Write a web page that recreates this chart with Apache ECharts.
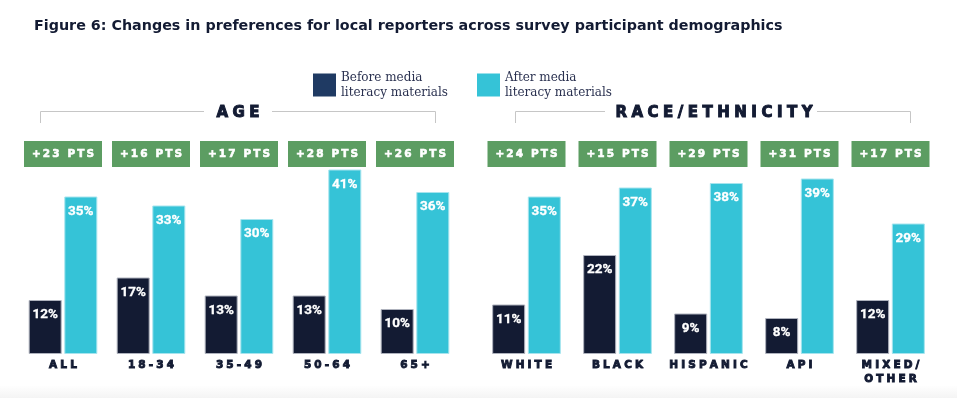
<!DOCTYPE html>
<html>
<head>
<meta charset="utf-8">
<script src="https://cdn.jsdelivr.net/npm/echarts@6/dist/echarts.min.js"></script>
<style>
html,body{margin:0;padding:0;background:#fff;}
#chart{width:957px;height:398px;}
</style>
</head>
<body>
<div id="chart"></div>
<script>
// ---- data ----
var ageCategories = ['ALL', '18-34', '35-49', '50-64', '65+'];
var ageBefore = [12, 17, 13, 13, 10];
var ageAfter = [35, 33, 30, 41, 36];
var ageChange = [23, 16, 17, 28, 26];

var raceCategories = ['WHITE', 'BLACK', 'HISPANIC', 'API', 'MIXED/\nOTHER'];
var raceBefore = [11, 22, 9, 8, 12];
var raceAfter = [35, 37, 38, 39, 29];
var raceChange = [24, 15, 29, 31, 17];

var seriesNames = ['Before media\nliteracy materials', 'After media\nliteracy materials'];
var groupTitles = ['AGE', 'RACE/ETHNICITY'];
var chartTitle = 'Figure 6: Changes in preferences for local reporters across survey participant demographics';

// ---- style ----
var NAVY = '#131b33';
var TEAL = '#35c3d7';
var GREEN = '#5c9d62';
var HEAVY = '"DejaVu Sans", sans-serif';

function spaced(s, sep) {
  sep = sep || '\u2009\u200a';
  return s.split('\n').map(function (line) { return line.split('').join(sep); }).join('\n');
}
function badge(v) { return spaced('+' + v + ' PTS', '\u2009'); }

var chart = echarts.init(document.getElementById('chart'), null, {renderer: 'canvas'});

function bottomAxis(grid, cats) {
  return {
    type: 'category', gridIndex: grid, position: 'bottom', data: cats,
    axisLine: {show: false}, axisTick: {show: false}, splitLine: {show: false},
    axisLabel: {
      interval: 0, margin: 4, color: NAVY, fontFamily: HEAVY, fontWeight: 'bold',
      fontSize: 10.5, lineHeight: 14, textBorderColor: NAVY, textBorderWidth: 0.9,
      formatter: function (v) { return spaced(v); }
    }
  };
}
function topAxis(grid, changes) {
  return {
    type: 'category', gridIndex: grid, position: 'top', data: changes.map(badge),
    axisLine: {show: false}, axisTick: {show: false}, splitLine: {show: false},
    axisLabel: {
      interval: 0, inside: true, margin: 12, color: '#ffffff', fontFamily: HEAVY,
      fontWeight: 'bold', fontSize: 10.5, backgroundColor: GREEN, width: 78, height: 26,
      lineHeight: 26, align: 'center', verticalAlign: 'top',
      textBorderColor: '#ffffff', textBorderWidth: 0.6
    }
  };
}
function valueAxis(grid) {
  return {type: 'value', gridIndex: grid, min: 0, max: 50, show: false, splitLine: {show: false}};
}
function barSeries(name, xi, yi, data, color, border) {
  return {
    type: 'bar', name: name, xAxisIndex: xi, yAxisIndex: yi, data: data,
    barWidth: 33, barGap: '8%',
    itemStyle: {color: color, borderColor: border, borderWidth: 1},
    label: {
      show: true, position: 'insideTop', distance: 8, color: '#ffffff',
      fontFamily: 'Roboto, sans-serif', fontWeight: 'bold', fontSize: 13.5,
      textBorderColor: '#ffffff', textBorderWidth: 0.3,
      formatter: '{c}%'
    },
    emphasis: {disabled: true}
  };
}

var LINE = {stroke: '#c6c6c6', lineWidth: 1};

var option = {
  animation: false,
  backgroundColor: '#ffffff',
  title: {
    text: chartTitle, left: 29, top: 14,
    textStyle: {fontFamily: HEAVY, fontWeight: 'bold', fontSize: 14.3, color: NAVY}
  },
  legend: {
    left: 308, top: 65, itemWidth: 23, itemHeight: 23, itemGap: 29, icon: 'rect',
    selectedMode: false,
    textStyle: {fontFamily: '"DejaVu Serif", serif', fontSize: 12, lineHeight: 15, color: '#2a3150'},
    data: [
      {name: seriesNames[0], itemStyle: {color: '#1f3a63', borderWidth: 0}},
      {name: seriesNames[1], itemStyle: {color: TEAL, borderWidth: 0}}
    ]
  },
  grid: [
    {left: 19, width: 440, top: 129, bottom: 44},
    {left: 481, width: 455, top: 129, bottom: 44}
  ],
  xAxis: [
    bottomAxis(0, ageCategories), topAxis(0, ageChange),
    bottomAxis(1, raceCategories), topAxis(1, raceChange)
  ],
  yAxis: [valueAxis(0), valueAxis(1)],
  series: [
    barSeries(seriesNames[0], 0, 0, ageBefore, NAVY, '#aeb2bd'),
    barSeries(seriesNames[1], 0, 0, ageAfter, TEAL, '#a6e4ee'),
    barSeries(seriesNames[0], 2, 1, raceBefore, NAVY, '#aeb2bd'),
    barSeries(seriesNames[1], 2, 1, raceAfter, TEAL, '#a6e4ee')
  ],
  graphic: [
    {type: 'rect', left: 0, top: 386, silent: true, z: -10,
      shape: {width: 957, height: 12},
      style: {fill: new echarts.graphic.LinearGradient(0, 0, 0, 1, [{offset: 0, color: '#fefefe'}, {offset: 1, color: '#f4f4f4'}])}},
    // AGE bracket
    {type: 'polyline', silent: true, shape: {points: [[40.5, 123], [40.5, 111.5], [204, 111.5]]}, style: Object.assign({fill: null}, LINE)},
    {type: 'polyline', silent: true, shape: {points: [[272, 111.5], [435.5, 111.5], [435.5, 123]]}, style: Object.assign({fill: null}, LINE)},
    {type: 'text', silent: true, x: 238, y: 113,
      style: {text: spaced(groupTitles[0]), fill: NAVY, font: 'bold 15px ' + HEAVY, align: 'center', verticalAlign: 'middle', stroke: NAVY, lineWidth: 1}},
    // RACE bracket
    {type: 'polyline', silent: true, shape: {points: [[515.5, 123], [515.5, 111.5], [605, 111.5]]}, style: Object.assign({fill: null}, LINE)},
    {type: 'polyline', silent: true, shape: {points: [[817, 111.5], [910.5, 111.5], [910.5, 123]]}, style: Object.assign({fill: null}, LINE)},
    {type: 'text', silent: true, x: 714, y: 113,
      style: {text: spaced(groupTitles[1]), fill: NAVY, font: 'bold 15px ' + HEAVY, align: 'center', verticalAlign: 'middle', stroke: NAVY, lineWidth: 1}}
  ]
};
chart.setOption(option);
</script>
</body>
</html>
